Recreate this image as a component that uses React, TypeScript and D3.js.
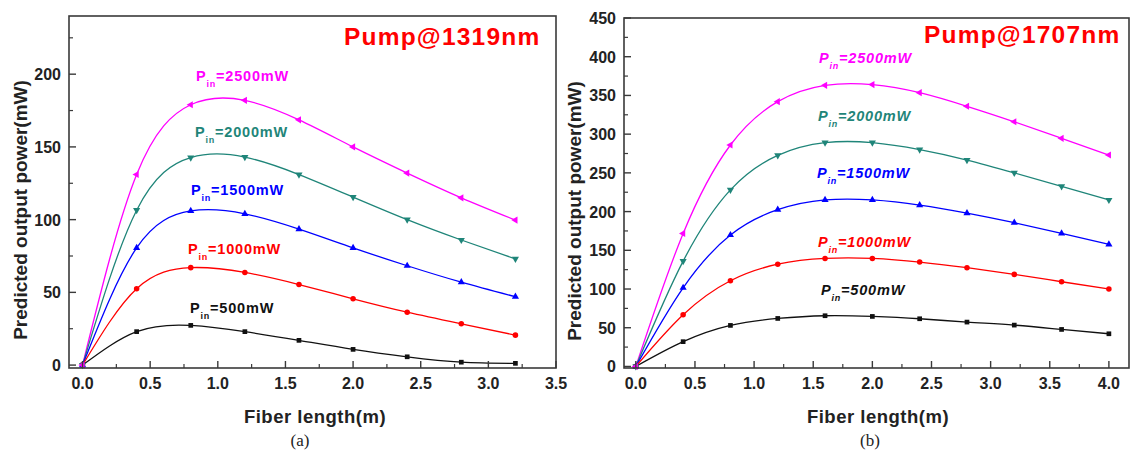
import React from "react";
import * as d3 from "d3";

// ---------- data ----------
const xA = [0, 0.4, 0.8, 1.2, 1.6, 2.0, 2.4, 2.8, 3.2];
const a2500 = [0, 131, 179, 182, 168.6, 150, 132, 115, 99.7];
const a2000 = [0, 106.5, 142.7, 143, 131, 115.5, 100, 86, 73];
const a1500 = [0, 80.6, 106, 104, 93.5, 80.6, 68.3, 57, 47];
const a1000 = [0, 52.5, 67, 63.7, 55.4, 45.6, 36.4, 28.4, 20.6];
const a500 = [0, 23, 27.3, 23, 17, 10.8, 5.7, 2, 1.2];

const xB = [0, 0.4, 0.8, 1.2, 1.6, 2.0, 2.4, 2.8, 3.2, 3.6, 4.0];
const b2500 = [0, 171.8, 286, 342, 363, 364, 353.6, 336, 316, 294.6, 273];
const b2000 = [0, 136, 228, 272.6, 289, 289, 280, 266.6, 250, 232.6, 215];
const b1500 = [0, 101.6, 169.7, 202.4, 215, 215, 208.4, 198, 185.6, 171.8, 157.6];
const b1000 = [0, 66.8, 110.7, 132, 139.5, 139.5, 134.8, 127.5, 118.9, 109.4, 100];
const b500 = [0, 32, 53, 62, 65.5, 64.6, 61.6, 57.3, 53.4, 47.8, 42.2];

const powers = ["2500", "2000", "1500", "1000", "500"];
const colors = ["#ff00ff", "#1f8579", "#0000ff", "#ff0000", "#111111"];
const shapes = ["left", "down", "up", "circle", "square"];

const xTicksA = [0, 0.5, 1.0, 1.5, 2.0, 2.5, 3.0, 3.5];
const xTicksB = [0, 0.5, 1.0, 1.5, 2.0, 2.5, 3.0, 3.5, 4.0];
const yTicksA = [0, 50, 100, 150, 200];
const yTicksB = [0, 50, 100, 150, 200, 250, 300, 350, 400, 450];

const FONT = "'Liberation Sans', Arial, Helvetica, sans-serif";

type PanelProps = {
  xs: number[];
  series: number[][];
  xDomain: [number, number];
  xRange: [number, number];
  yDomain: [number, number];
  yRange: [number, number];
  xTicks: number[];
  yTicks: number[];
  title: string;
  titlePos: [number, number];
  labelPos: [number, number][];
  italic: boolean;
  yLabelX: number;
  xLabelX: number;
  capX: number;
  caption: string;
};

function Marker({ shape, x, y, color }: { shape: string; x: number; y: number; color: string }) {
  let path: string | null = null;
  let rot = 0;
  if (shape === "square") path = d3.symbol(d3.symbolSquare, 22)();
  else if (shape === "circle") path = d3.symbol(d3.symbolCircle, 24)();
  else {
    path = d3.symbol(d3.symbolTriangle, 22)();
    rot = shape === "down" ? 180 : shape === "left" ? -90 : 0;
  }
  return <path d={path || ""} transform={`translate(${x},${y}) rotate(${rot})`} fill={color} />;
}

function Panel(p: PanelProps) {
  const x = d3.scaleLinear().domain(p.xDomain).range(p.xRange);
  const y = d3.scaleLinear().domain(p.yDomain).range(p.yRange);
  const line = d3
    .line<number>()
    .x((_, i) => x(p.xs[i]))
    .y((d) => y(d))
    .curve(d3.curveNatural);
  const [x0, x1] = p.xRange;
  const [yb, yt] = p.yRange;
  const xMinor = d3.range(0.25, p.xDomain[1], 0.5);
  const yMinor = d3.range(25, p.yDomain[1], 50);
  const axisColor = "#3a3a3a";
  return (
    <g>
      {/* curves */}
      {p.series.map((s, k) => (
        <path key={"l" + k} d={line(s) || ""} fill="none" stroke={colors[k]} strokeWidth={1.3} />
      ))}
      {p.series
        .map((s, k) => ({ s, k }))
        .reverse()
        .map(({ s, k }) =>
          s.map((v, i) => (
            <Marker key={`m${k}-${i}`} shape={shapes[k]} x={x(p.xs[i])} y={y(v)} color={colors[k]} />
          ))
        )}
      {/* frame */}
      <rect x={x0} y={yt} width={x1 - x0} height={yb - yt} fill="none" stroke={axisColor} strokeWidth={1.6} />
      {/* x ticks */}
      {p.xTicks.map((t) => (
        <g key={"xt" + t}>
          <line x1={x(t)} x2={x(t)} y1={yb} y2={yb - 7} stroke={axisColor} strokeWidth={1.4} />
          <text x={x(t)} y={yb + 21} textAnchor="middle" fontFamily={FONT} fontWeight="bold" fontSize={16} fill="#222">
            {t.toFixed(1)}
          </text>
        </g>
      ))}
      {xMinor.map((t) => (
        <line key={"xm" + t} x1={x(t)} x2={x(t)} y1={yb} y2={yb - 4} stroke={axisColor} strokeWidth={1.2} />
      ))}
      {/* y ticks */}
      {p.yTicks.map((t) => (
        <g key={"yt" + t}>
          <line x1={x0} x2={x0 + 7} y1={y(t)} y2={y(t)} stroke={axisColor} strokeWidth={1.4} />
          <text x={x0 - 8} y={y(t) + 6} textAnchor="end" fontFamily={FONT} fontWeight="bold" fontSize={16} fill="#222">
            {t}
          </text>
        </g>
      ))}
      {yMinor.map((t) => (
        <line key={"ym" + t} x1={x0} x2={x0 + 4} y1={y(t)} y2={y(t)} stroke={axisColor} strokeWidth={1.2} />
      ))}
      {/* series labels */}
      {p.labelPos.map(([lx, ly], k) => (
        <text
          key={"lab" + k}
          x={lx}
          y={ly}
          fontFamily={FONT}
          fontWeight="bold"
          fontStyle={p.italic ? "italic" : "normal"}
          fontSize={14.5}
          letterSpacing={0.8}
          fill={colors[k]}
        >
          <tspan>P</tspan>
          <tspan dy={6} fontSize={9}>in</tspan>
          <tspan dy={-6}>{`=${powers[k]}mW`}</tspan>
        </text>
      ))}
      {/* title */}
      <text x={p.titlePos[0]} y={p.titlePos[1]} fontFamily={FONT} fontWeight="bold" fontSize={24.5} letterSpacing={1.2} fill="#ff0000">
        {p.title}
      </text>
      {/* axis titles */}
      <text
        transform={`translate(${p.yLabelX},${(yt + yb) / 2 + 18}) rotate(-90)`}
        textAnchor="middle"
        fontFamily={FONT}
        fontWeight="bold"
        fontSize={19}
        fill="#222"
      >
        Predicted output power(mW)
      </text>
      <text x={p.xLabelX} y={423} textAnchor="middle" fontFamily={FONT} fontWeight="bold" fontSize={18.5} letterSpacing={0.5} fill="#222">
        Fiber length(m)
      </text>
      <text x={p.capX} y={446} textAnchor="middle" fontFamily="'Liberation Serif', 'Times New Roman', serif" fontSize={17} fill="#222">
        {p.caption}
      </text>
    </g>
  );
}

export default function App() {
  return (
    <svg
      width={1131}
      height={451}
      viewBox="0 0 1131 451"
      style={{ position: "absolute", left: 0, top: 0, background: "#fff" }}
    >
      <rect width={1131} height={451} fill="#fff" />
      <Panel
        xs={xA}
        series={[a2500, a2000, a1500, a1000, a500]}
        xDomain={[-0.1, 3.5]}
        xRange={[69, 556]}
        yDomain={[-2, 240]}
        yRange={[368, 16]}
        xTicks={xTicksA}
        yTicks={yTicksA}
        title="Pump@1319nm"
        titlePos={[344, 45]}
        labelPos={[
          [196, 81],
          [195, 137],
          [191, 195],
          [188, 254],
          [190, 313],
        ]}
        italic={false}
        yLabelX={27}
        xLabelX={315}
        capX={300}
        caption="(a)"
      />
      <Panel
        xs={xB}
        series={[b2500, b2000, b1500, b1000, b500]}
        xDomain={[-0.1, 4.17]}
        xRange={[624, 1129]}
        yDomain={[-2, 450]}
        yRange={[368, 18]}
        xTicks={xTicksB}
        yTicks={yTicksB}
        title="Pump@1707nm"
        titlePos={[924, 43]}
        labelPos={[
          [819, 63],
          [818, 121],
          [817, 178],
          [818, 247],
          [821, 295],
        ]}
        italic={true}
        yLabelX={581}
        xLabelX={878}
        capX={870}
        caption="(b)"
      />
    </svg>
  );
}
